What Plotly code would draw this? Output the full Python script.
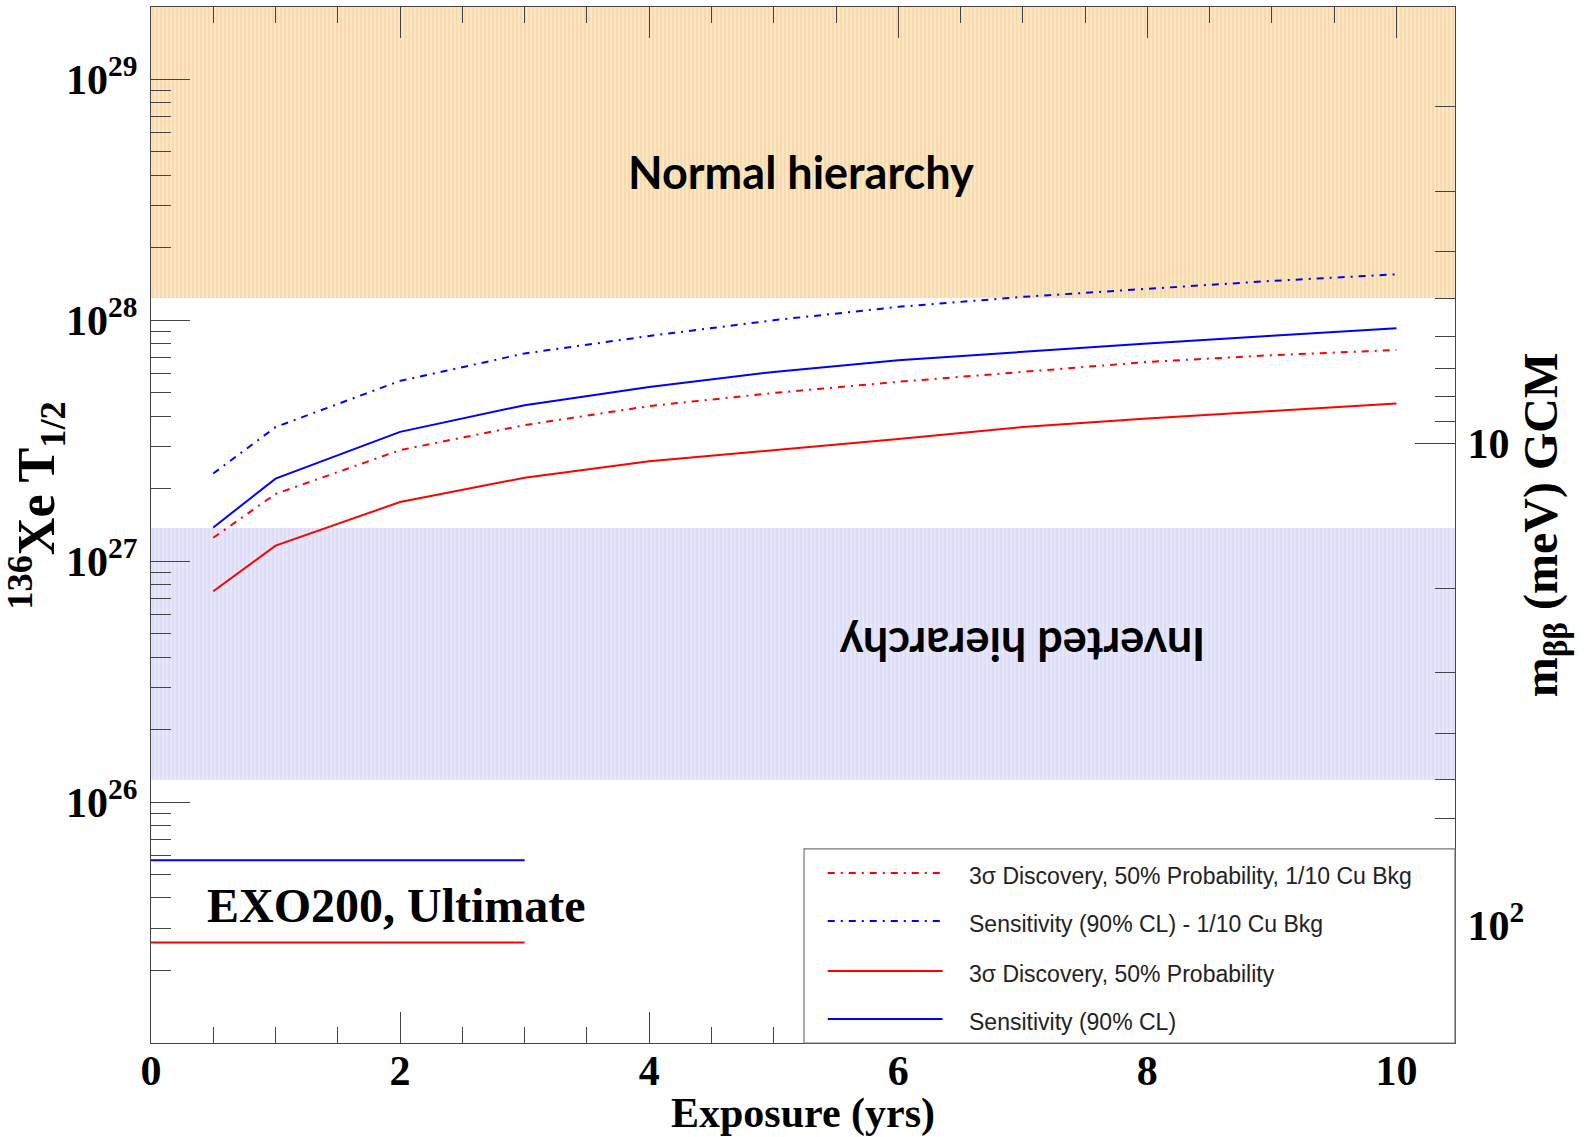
import numpy as np
import plotly.graph_objects as go

# ---------------- data ----------------
exposure_yrs = [0.5, 1, 2, 3, 4, 5, 6, 7, 8, 9, 10]
disc_3sigma_cu10 = [1.25e27, 1.9e27, 2.89e27, 3.67e27, 4.4e27, 4.99e27, 5.55e27, 6.1e27, 6.71e27, 7.16e27, 7.52e27]
sens_90cl_cu10 = [2.31e27, 3.6e27, 5.6e27, 7.28e27, 8.6e27, 1.0e28, 1.136e28, 1.25e28, 1.35e28, 1.456e28, 1.55e28]
disc_3sigma = [7.5e26, 1.16e27, 1.76e27, 2.22e27, 2.6e27, 2.89e27, 3.21e27, 3.6e27, 3.91e27, 4.2e27, 4.51e27]
sens_90cl = [1.38e27, 2.2e27, 3.44e27, 4.44e27, 5.28e27, 6.1e27, 6.82e27, 7.4e27, 8.0e27, 8.61e27, 9.25e27]

series_names = [
    "3σ Discovery, 50% Probability, 1/10 Cu Bkg",
    "Sensitivity (90% CL) - 1/10 Cu Bkg",
    "3σ Discovery, 50% Probability",
    "Sensitivity (90% CL)",
]

exo200_exposure = [0, 3]
exo200_sens = 5.74e25
exo200_disc = 2.61e25

# hierarchy bands, in m_bb (meV)
nh_mbb_max = 5.0
ih_mbb = [15.0, 50.0]

# m_bb (GCM) <-> T1/2 conversion: m = mbb_ref * sqrt(t_ref / T)
mbb_ref = 10.0
t_ref = 10 ** 27.49

x_range = [0, 10.47]
y_log_range = [25, 29.3]

left_major = [1e26, 1e27, 1e28, 1e29]
left_major_text = ["10<sup>26</sup>", "10<sup>27</sup>", "10<sup>28</sup>", "10<sup>29</sup>"]
right_major = [10.0, 100.0]
right_major_text = ["10", "10<sup>2</sup>"]


def t_from_m(m):
    return float(t_ref * (mbb_ref / m) ** 2)


def logm_from_logt(lt):
    return float(np.log10(mbb_ref) + 0.5 * (np.log10(t_ref) - lt))


RED = "#ff0000"
BLUE = "#0000ff"
DASHDOT = "7px,6px,2px,6px"
styles = [
    dict(color=RED, dash=DASHDOT),
    dict(color=BLUE, dash=DASHDOT),
    dict(color=RED, dash="solid"),
    dict(color=BLUE, dash="solid"),
]
series_values = [disc_3sigma_cu10, sens_90cl_cu10, disc_3sigma, sens_90cl]

fig = go.Figure()

# bands
t_top = float(10.0 ** y_log_range[1])
x0b, x1b = x_range
fig.add_trace(go.Scatter(
    x=[x0b, x1b, x1b, x0b], y=[t_from_m(nh_mbb_max)] * 2 + [t_top] * 2,
    fill="toself", mode="none", showlegend=False, hoverinfo="skip",
    fillcolor="#fbe0b8",
    fillpattern=dict(shape="|", size=4, solidity=0.4, fgcolor="#f3c98a", bgcolor="#fce6c4"),
))
fig.add_trace(go.Scatter(
    x=[x0b, x1b, x1b, x0b], y=[t_from_m(ih_mbb[0])] * 2 + [t_from_m(ih_mbb[1])] * 2,
    fill="toself", mode="none", showlegend=False, hoverinfo="skip",
    fillcolor="#e3e3fa",
    fillpattern=dict(shape="|", size=4, solidity=0.4, fgcolor="#d0d0f5", bgcolor="#e7e7fb"),
))

# EXO200 ultimate lines
fig.add_trace(go.Scatter(x=exo200_exposure, y=[exo200_sens] * 2, mode="lines",
                         line=dict(color=BLUE, width=2), showlegend=False))
fig.add_trace(go.Scatter(x=exo200_exposure, y=[exo200_disc] * 2, mode="lines",
                         line=dict(color=RED, width=2), showlegend=False))

for name, vals, st in zip(series_names, series_values, styles):
    fig.add_trace(go.Scatter(x=exposure_yrs, y=vals, mode="lines", name=name,
                             line=dict(color=st["color"], dash=st["dash"], width=2)))

# dummy trace for the right (m_bb) axis
fig.add_trace(go.Scatter(x=[None], y=[None], yaxis="y2", mode="lines", showlegend=False, hoverinfo="skip"))

serif_bold = dict(family="Liberation Serif", color="black", weight="bold")
axcol = "#444444"

right_minor = [float(k * 10.0 ** n) for n in (0, 1) for k in range(2, 10)]
left_minor = [float(k * 10.0 ** n) for n in range(25, 29) for k in range(2, 10)]

fig.update_layout(
    width=1587, height=1137,
    margin=dict(l=151, r=132, t=7, b=94),
    paper_bgcolor="white", plot_bgcolor="white",
    showlegend=False,
    xaxis=dict(
        range=x_range, tick0=0, dtick=2, ticks="inside", ticklen=31, tickwidth=1.3, tickcolor=axcol,
        minor=dict(tick0=0, dtick=0.5, ticks="inside", ticklen=16, tickwidth=1.3, tickcolor=axcol),
        showline=True, linecolor=axcol, linewidth=1.3, mirror="ticks",
        showgrid=False, zeroline=False, automargin=False,
        tickfont=dict(size=42, **serif_bold), ticklabelstandoff=-10,
        title=dict(text="Exposure (yrs)", font=dict(size=42, **serif_bold), standoff=8),
    ),
    yaxis=dict(
        type="log", range=y_log_range, tickmode="array", tickvals=left_major, ticktext=left_major_text,
        ticks="inside", ticklen=39, tickwidth=1.3, tickcolor=axcol,
        minor=dict(tickmode="array", tickvals=left_minor, ticks="inside", ticklen=20, tickwidth=1.3, tickcolor=axcol),
        showline=True, linecolor=axcol, linewidth=1.3, mirror=False,
        showgrid=False, zeroline=False, automargin=False,
        tickfont=dict(size=42, **serif_bold), ticklabelstandoff=4,
        title=dict(text="&nbsp;&nbsp;&nbsp;<sup>136</sup>Xe T<sub>1/2</sub>",
                   font=dict(size=52, **serif_bold), standoff=2),
    ),
    yaxis2=dict(
        type="log", overlaying="y", side="right", anchor="x",
        range=[logm_from_logt(y_log_range[0]), logm_from_logt(y_log_range[1])],
        tickmode="array", tickvals=right_major, ticktext=right_major_text,
        ticks="inside", ticklen=40, tickwidth=1.3, tickcolor=axcol,
        minor=dict(tickmode="array", tickvals=right_minor, ticks="inside", ticklen=20, tickwidth=1.3, tickcolor=axcol),
        showline=True, linecolor=axcol, linewidth=1.3,
        showgrid=False, zeroline=False, automargin=False,
        tickfont=dict(size=42, **serif_bold), ticklabelstandoff=3,
        title=dict(text="m<sub>ββ</sub> (meV) GCM", font=dict(size=48, **serif_bold), standoff=0),
    ),
)

# text annotations
annots = [
    dict(text="Normal hierarchy", x=0.4985, y=0.8407, textangle=0,
         font=dict(family="Lato", size=45, color="black", weight="bold")),
    dict(text="Inverted hierarchy", x=0.668, y=0.384, textangle=180,
         font=dict(family="Lato", size=45, color="black", weight="bold")),
    dict(text="EXO200, Ultimate", x=0.1879, y=0.1332, textangle=0,
         font=dict(size=48, **serif_bold)),
]
for a in annots:
    fig.add_annotation(xref="paper", yref="paper", showarrow=False, xanchor="center", yanchor="middle", **a)

# legend box (drawn manually to match the reference layout)
leg_x0, leg_x1, leg_y0, leg_y1 = 0.5008, 1.0, 0.0, 0.1873
fig.add_shape(type="rect", xref="paper", yref="paper", x0=leg_x0, x1=leg_x1, y0=leg_y0, y1=leg_y1,
              fillcolor="white", line=dict(color="#777777", width=1.2), layer="above")
leg_rows = [0.1641, 0.1178, 0.0695, 0.0232]
for name, st, yy in zip(series_names, styles, leg_rows):
    fig.add_shape(type="line", xref="paper", yref="paper", x0=0.519, x1=0.607, y0=yy, y1=yy,
                  line=dict(color=st["color"], dash=st["dash"], width=2), layer="above")
    fig.add_annotation(xref="paper", yref="paper", x=0.6254, y=yy - 0.003, text=name, showarrow=False,
                       xanchor="left", yanchor="middle",
                       font=dict(family="Liberation Sans", size=23, color="#222222"))

fig.write_html("out.html")
